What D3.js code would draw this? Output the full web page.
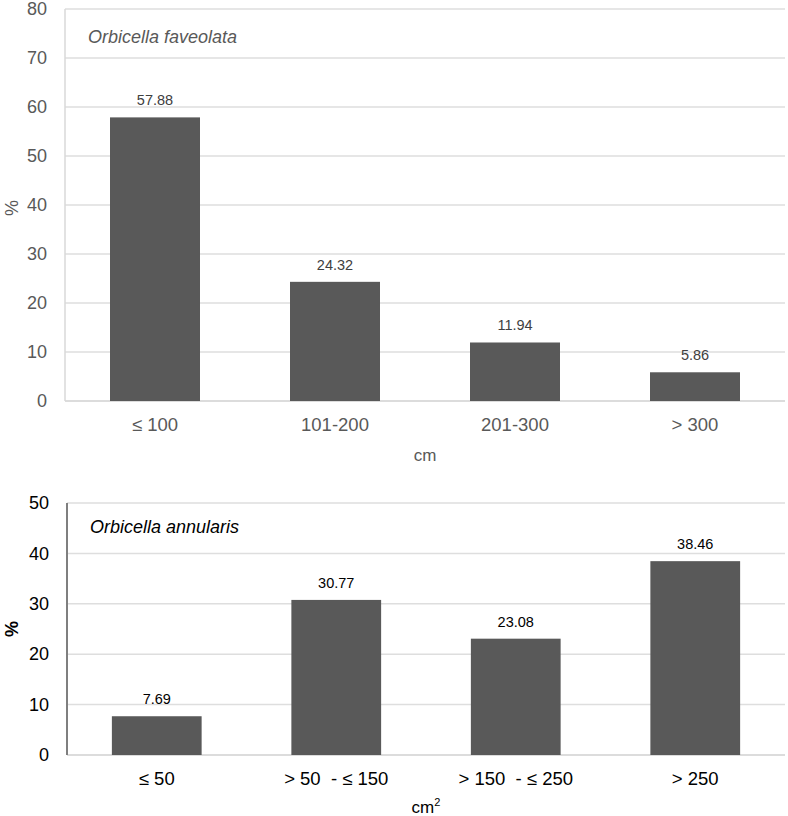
<!DOCTYPE html>
<html lang="en">
    <head>
        <meta charset="utf-8">
        <title>Orbicella colony size classes</title>
        <script type="text/javascript" src="https://cdn.jsdelivr.net/npm/d3@7/dist/d3.min.js"></script>
        <style type="text/css">
            body { margin: 0; background: #fff; }
            svg { font-family: "Liberation Sans", Arial, sans-serif; display: block; }
            svg text { white-space: pre; }
        </style>
    </head>
    <body>
        <script type="text/javascript">
            var w = 788;
            var h = 816;

            //Data
            var favCategories = ["\u2264 100", "101-200", "201-300", "> 300"];
            var favValues = [57.88, 24.32, 11.94, 5.86];
            var favTicks = [0, 10, 20, 30, 40, 50, 60, 70, 80];

            var annCategories = ["\u2264 50", "> 50  - \u2264 150", "> 150  - \u2264 250", "> 250"];
            var annValues = [7.69, 30.77, 23.08, 38.46];
            var annTicks = [0, 10, 20, 30, 40, 50];

            var svg = d3.select("body")
                        .append("svg")
                        .attr("width", w)
                        .attr("height", h);

            function drawPanel(cfg) {
                var xScale = d3.scaleBand()
                    .domain(cfg.categories)
                    .range([cfg.left, cfg.right])
                    .paddingInner(0.5)
                    .paddingOuter(0.25);

                var yScale = d3.scaleLinear()
                    .domain([0, d3.max(cfg.ticks)])
                    .range([cfg.bottom, cfg.top]);

                var g = svg.append("g");

                // gridlines
                g.selectAll("line.grid")
                    .data(cfg.ticks)
                    .enter()
                    .append("line")
                    .attr("class", "grid")
                    .attr("x1", cfg.left)
                    .attr("x2", cfg.right)
                    .attr("y1", function(d) { return yScale(d); })
                    .attr("y2", function(d) { return yScale(d); })
                    .attr("stroke", function(d) { return d === 0 ? "#d0d0d0" : "#dedede"; })
                    .attr("stroke-width", 1.5);

                // y axis with labels only
                var yAxis = d3.axisLeft(yScale)
                    .tickValues(cfg.ticks)
                    .tickSize(0)
                    .tickPadding(cfg.tickPad);
                var ya = g.append("g")
                    .attr("transform", "translate(" + cfg.left + ",0)")
                    .call(yAxis);
                ya.select(".domain").remove();
                ya.selectAll("text")
                    .attr("font-size", "18px")
                    .attr("font-family", "Liberation Sans, Arial, sans-serif")
                    .attr("fill", cfg.textColor);

                // vertical axis line
                g.append("line")
                    .attr("x1", cfg.left).attr("x2", cfg.left)
                    .attr("y1", cfg.top).attr("y2", cfg.bottom)
                    .attr("stroke", cfg.axisColor)
                    .attr("stroke-width", cfg.axisWidth);

                // bars
                g.selectAll("rect.bar")
                    .data(cfg.values)
                    .enter()
                    .append("rect")
                    .attr("class", "bar")
                    .attr("x", function(d, i) { return xScale(cfg.categories[i]); })
                    .attr("y", function(d) { return yScale(d); })
                    .attr("width", xScale.bandwidth())
                    .attr("height", function(d) { return cfg.bottom - yScale(d); })
                    .attr("fill", "#595959");

                // value labels
                g.selectAll("text.val")
                    .data(cfg.values)
                    .enter()
                    .append("text")
                    .attr("class", "val")
                    .attr("x", function(d, i) { return xScale(cfg.categories[i]) + xScale.bandwidth() / 2; })
                    .attr("y", function(d) { return yScale(d) - 12; })
                    .attr("text-anchor", "middle")
                    .attr("font-size", "14.5px")
                    .attr("fill", cfg.valColor)
                    .text(function(d) { return d.toFixed(2); });

                // x axis labels
                var xAxis = d3.axisBottom(xScale)
                    .tickSize(0)
                    .tickPadding(cfg.xPad);
                var xa = g.append("g")
                    .attr("transform", "translate(0," + cfg.bottom + ")")
                    .call(xAxis);
                xa.select(".domain").remove();
                xa.selectAll("text")
                    .attr("font-size", "18.5px")
                    .attr("font-family", "Liberation Sans, Arial, sans-serif")
                    .attr("fill", cfg.textColor);

                // species title
                g.append("text")
                    .attr("x", cfg.left + 23)
                    .attr("y", cfg.titleY)
                    .attr("font-size", "18px")
                    .attr("font-style", "italic")
                    .attr("fill", cfg.textColor)
                    .text(cfg.title);

                // y title
                g.append("text")
                    .attr("transform", "translate(" + cfg.yTitleX + "," + cfg.yTitleY + ") rotate(-90)")
                    .attr("text-anchor", "middle")
                    .attr("font-size", "18px")
                    .attr("font-weight", cfg.yTitleWeight)
                    .attr("fill", cfg.textColor)
                    .text("%");

                return g;
            }

            drawPanel({
                categories: favCategories, values: favValues, ticks: favTicks,
                left: 65, right: 785, top: 9, bottom: 401,
                tickPad: 18, xPad: 17, textColor: "#595959", valColor: "#404040",
                axisColor: "#d9d9d9", axisWidth: 1.5,
                title: "Orbicella faveolata", titleY: 43,
                yTitleX: 18, yTitleY: 208, yTitleWeight: "normal"
            });
            svg.append("text")
                .attr("x", 425).attr("y", 461)
                .attr("text-anchor", "middle")
                .attr("font-size", "17px")
                .attr("fill", "#595959")
                .text("cm");

            drawPanel({
                categories: annCategories, values: annValues, ticks: annTicks,
                left: 67, right: 785, top: 503, bottom: 755,
                tickPad: 18, xPad: 17, textColor: "#000", valColor: "#000",
                axisColor: "#7f7f7f", axisWidth: 2,
                title: "Orbicella annularis", titleY: 533,
                yTitleX: 18, yTitleY: 629, yTitleWeight: "bold"
            });
            var cm2 = svg.append("text")
                .attr("x", 426).attr("y", 813)
                .attr("text-anchor", "middle")
                .attr("font-size", "17px")
                .attr("fill", "#000");
            cm2.append("tspan").text("cm");
            cm2.append("tspan").attr("dy", -7).attr("font-size", "11px").text("2");
        </script>
    </body>
</html>
